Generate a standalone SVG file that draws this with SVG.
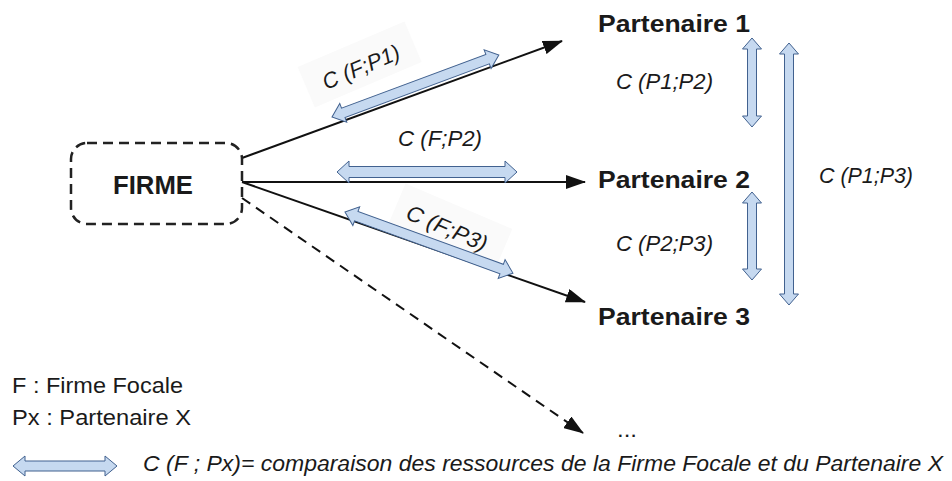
<svg xmlns="http://www.w3.org/2000/svg" width="952" height="481" viewBox="0 0 952 481">
<defs>
<style>
.bold{font-family:"Liberation Sans",Arial,sans-serif;font-weight:bold;fill:#1a1a1a}
.ital{font-family:"Liberation Sans",Arial,sans-serif;font-style:italic;fill:#1a1a1a;font-size:22px}
.reg{font-family:"Liberation Sans",Arial,sans-serif;fill:#1a1a1a;font-size:22px}
.line{stroke:#111;stroke-width:2;fill:none}
.dash{stroke:#111;stroke-width:2;fill:none;stroke-dasharray:10 7}
.barrow{fill:#c6d9f0;stroke:#41618f;stroke-width:1}
.lbg{fill:#fafafa}
</style>
<marker id="ah" markerUnits="userSpaceOnUse" markerWidth="20" markerHeight="14" refX="19" refY="7" orient="auto" viewBox="0 0 20 14">
<path d="M0,0 L20,7 L0,14 z" fill="#111"/>
</marker>
</defs>
<rect width="952" height="481" fill="#fff"/>

<!-- label backgrounds -->
<rect class="lbg" x="-58" y="-28" width="116" height="44" transform="translate(362,70) rotate(-23)"/>
<rect class="lbg" x="-58" y="-28" width="116" height="44" transform="translate(448,232) rotate(23)"/>

<g id="connectors">
<line class="line" x1="242" y1="158" x2="562" y2="41" marker-end="url(#ah)"/>
<line class="line" x1="242" y1="182" x2="585" y2="182" marker-end="url(#ah)"/>
<line class="line" x1="242" y1="182" x2="585" y2="302" marker-end="url(#ah)"/>
<line class="dash" x1="242" y1="198" x2="583" y2="433" marker-end="url(#ah)"/>
</g>

<g id="firme">
<rect x="71" y="143" width="171" height="81" rx="16" fill="none" stroke="#222" stroke-width="2.5" stroke-dasharray="10 6"/>
<text class="bold" x="153" y="194" font-size="25" text-anchor="middle" textLength="80" lengthAdjust="spacingAndGlyphs">FIRME</text>
</g>

<g id="partenaire1"><text class="bold" x="598" y="32" font-size="24" textLength="152" lengthAdjust="spacingAndGlyphs">Partenaire 1</text></g>
<g id="partenaire2"><text class="bold" x="598" y="188" font-size="24" textLength="152" lengthAdjust="spacingAndGlyphs">Partenaire 2</text></g>
<g id="partenaire3"><text class="bold" x="598" y="325" font-size="24" textLength="152" lengthAdjust="spacingAndGlyphs">Partenaire 3</text></g>
<g id="etc"><text class="reg" x="617" y="437" textLength="20" lengthAdjust="spacingAndGlyphs">...</text></g>

<g id="comparisons">
<polygon class="barrow" transform="translate(332,117) rotate(-20.4)" points="0,0 12,-10 12,-5 166,-5 166,-10 178,0 166,10 166,5 12,5 12,10"/>
<polygon class="barrow" transform="translate(337,172)" points="0,0 12,-11 12,-5.5 168,-5.5 168,-11 180,0 168,11 168,5.5 12,5.5 12,11"/>
<polygon class="barrow" transform="translate(345,212) rotate(20)" points="0,0 12,-10 12,-5 166.7,-5 166.7,-10 178.7,0 166.7,10 166.7,5 12,5 12,10"/>
<polygon class="barrow" transform="translate(752,38) rotate(90)" points="0,0 11,-9.5 11,-4.5 78,-4.5 78,-9.5 89,0 78,9.5 78,4.5 11,4.5 11,9.5"/>
<polygon class="barrow" transform="translate(752,192) rotate(90)" points="0,0 11,-9.5 11,-4.5 77,-4.5 77,-9.5 88,0 77,9.5 77,4.5 11,4.5 11,9.5"/>
<polygon class="barrow" transform="translate(789,43) rotate(90)" points="0,0 11,-9.5 11,-4.5 251,-4.5 251,-9.5 262,0 251,9.5 251,4.5 11,4.5 11,9.5"/>

<text class="ital" transform="translate(364,74) rotate(-23)" text-anchor="middle" textLength="82" lengthAdjust="spacingAndGlyphs">C (F;P1)</text>
<text class="ital" x="440" y="146" text-anchor="middle" textLength="84" lengthAdjust="spacingAndGlyphs">C (F;P2)</text>
<text class="ital" transform="translate(444,235) rotate(23)" text-anchor="middle" textLength="86" lengthAdjust="spacingAndGlyphs">C (F;P3)</text>
<text class="ital" x="616" y="89" textLength="97" lengthAdjust="spacingAndGlyphs">C (P1;P2)</text>
<text class="ital" x="616" y="251" textLength="97" lengthAdjust="spacingAndGlyphs">C (P2;P3)</text>
<text class="ital" x="819" y="183" textLength="94" lengthAdjust="spacingAndGlyphs">C (P1;P3)</text>
</g>

<g id="legend">
<text class="reg" x="12" y="393" textLength="171" lengthAdjust="spacingAndGlyphs">F : Firme Focale</text>
<text class="reg" x="12" y="425" textLength="179" lengthAdjust="spacingAndGlyphs">Px : Partenaire X</text>
<polygon class="barrow" transform="translate(13,466)" points="0,0 12,-10 12,-5 92,-5 92,-10 104,0 92,10 92,5 12,5 12,10"/>
<text class="ital" x="143" y="471" font-size="23" textLength="800" lengthAdjust="spacingAndGlyphs">C (F ; Px)= comparaison des ressources de la Firme Focale et du Partenaire X</text>
</g>
</svg>
